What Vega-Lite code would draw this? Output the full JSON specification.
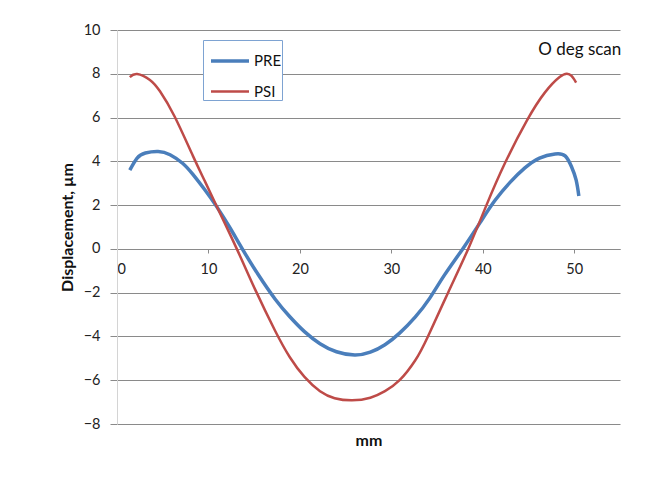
{
  "$schema": "https://vega.github.io/schema/vega-lite/v6.json",
  "width": 503,
  "height": 394,
  "autosize": {"type": "none"},
  "padding": {"left": 117, "top": 30, "right": 34, "bottom": 55},
  "background": "white",
  "config": {
    "view": {"stroke": null},
    "font": "Lato",
    "axis": {"labelFont": "Lato", "titleFont": "Lato"}
  },
  "datasets": {
    "curves": [
      {"mm": 1.4, "disp": 3.6, "series": "PRE"},
      {"mm": 2.2, "disp": 4.15, "series": "PRE"},
      {"mm": 3.1, "disp": 4.38, "series": "PRE"},
      {"mm": 4.5, "disp": 4.45, "series": "PRE"},
      {"mm": 5.8, "disp": 4.3, "series": "PRE"},
      {"mm": 7.2, "disp": 3.9, "series": "PRE"},
      {"mm": 8.3, "disp": 3.4, "series": "PRE"},
      {"mm": 9.6, "disp": 2.7, "series": "PRE"},
      {"mm": 10.9, "disp": 1.93, "series": "PRE"},
      {"mm": 12.3, "disp": 1.0, "series": "PRE"},
      {"mm": 13.7, "disp": 0.0, "series": "PRE"},
      {"mm": 15.4, "disp": -1.15, "series": "PRE"},
      {"mm": 17.3, "disp": -2.3, "series": "PRE"},
      {"mm": 18.9, "disp": -3.1, "series": "PRE"},
      {"mm": 20.5, "disp": -3.78, "series": "PRE"},
      {"mm": 22.2, "disp": -4.33, "series": "PRE"},
      {"mm": 24.0, "disp": -4.7, "series": "PRE"},
      {"mm": 26.0, "disp": -4.85, "series": "PRE"},
      {"mm": 27.7, "disp": -4.72, "series": "PRE"},
      {"mm": 29.3, "disp": -4.38, "series": "PRE"},
      {"mm": 30.9, "disp": -3.85, "series": "PRE"},
      {"mm": 32.6, "disp": -3.12, "series": "PRE"},
      {"mm": 34.2, "disp": -2.25, "series": "PRE"},
      {"mm": 35.8, "disp": -1.2, "series": "PRE"},
      {"mm": 37.8, "disp": 0.0, "series": "PRE"},
      {"mm": 39.7, "disp": 1.2, "series": "PRE"},
      {"mm": 41.3, "disp": 2.2, "series": "PRE"},
      {"mm": 43.0, "disp": 3.05, "series": "PRE"},
      {"mm": 44.6, "disp": 3.7, "series": "PRE"},
      {"mm": 46.2, "disp": 4.15, "series": "PRE"},
      {"mm": 47.9, "disp": 4.34, "series": "PRE"},
      {"mm": 49.0, "disp": 4.25, "series": "PRE"},
      {"mm": 49.7, "disp": 3.75, "series": "PRE"},
      {"mm": 50.2, "disp": 3.15, "series": "PRE"},
      {"mm": 50.5, "disp": 2.42, "series": "PRE"},

      {"mm": 1.4, "disp": 7.85, "series": "PSI"},
      {"mm": 2.2, "disp": 7.99, "series": "PSI"},
      {"mm": 3.6, "disp": 7.72, "series": "PSI"},
      {"mm": 4.7, "disp": 7.2, "series": "PSI"},
      {"mm": 6.3, "disp": 6.05, "series": "PSI"},
      {"mm": 8.3, "disp": 4.25, "series": "PSI"},
      {"mm": 9.6, "disp": 3.1, "series": "PSI"},
      {"mm": 10.9, "disp": 1.95, "series": "PSI"},
      {"mm": 13.1, "disp": 0.0, "series": "PSI"},
      {"mm": 15.1, "disp": -1.85, "series": "PSI"},
      {"mm": 17.3, "disp": -3.75, "series": "PSI"},
      {"mm": 18.9, "disp": -4.95, "series": "PSI"},
      {"mm": 20.5, "disp": -5.85, "series": "PSI"},
      {"mm": 22.2, "disp": -6.5, "series": "PSI"},
      {"mm": 23.8, "disp": -6.82, "series": "PSI"},
      {"mm": 25.7, "disp": -6.92, "series": "PSI"},
      {"mm": 27.7, "disp": -6.8, "series": "PSI"},
      {"mm": 29.3, "disp": -6.5, "series": "PSI"},
      {"mm": 30.9, "disp": -6.0, "series": "PSI"},
      {"mm": 32.6, "disp": -5.1, "series": "PSI"},
      {"mm": 34.0, "disp": -4.0, "series": "PSI"},
      {"mm": 36.2, "disp": -2.0, "series": "PSI"},
      {"mm": 38.4, "disp": 0.0, "series": "PSI"},
      {"mm": 40.4, "disp": 2.0, "series": "PSI"},
      {"mm": 42.4, "disp": 3.9, "series": "PSI"},
      {"mm": 44.8, "disp": 5.85, "series": "PSI"},
      {"mm": 46.8, "disp": 7.15, "series": "PSI"},
      {"mm": 48.4, "disp": 7.85, "series": "PSI"},
      {"mm": 49.2, "disp": 8.0, "series": "PSI"},
      {"mm": 49.7, "disp": 7.9, "series": "PSI"},
      {"mm": 50.2, "disp": 7.6, "series": "PSI"}
    ],
    "notes": [
      {"mm": 50.6, "disp": 8.86, "note": "O deg scan"}
    ]
  },
  "layer": [
    {
      "data": {"name": "curves"},
      "mark": {"type": "line", "interpolate": "natural"},
      "encoding": {
        "x": {
          "field": "mm",
          "type": "quantitative",
          "scale": {"domain": [0, 55], "nice": false},
          "axis": {
            "title": "mm",
            "values": [0, 10, 20, 30, 40, 50],
            "grid": false,
            "offset": -175,
            "domainColor": "#8a8a8a",
            "tickColor": "#8a8a8a",
            "tickSize": 4,
            "labelPadding": 9,
            "labelFontSize": 14.5,
            "labelColor": "#222222",
            "titleFontSize": 16,
            "titleFontWeight": "bold",
            "titleColor": "#111111",
            "titleX": 251.5,
            "titleY": 191,
            "titleBaseline": "middle"
          }
        },
        "y": {
          "field": "disp",
          "type": "quantitative",
          "scale": {"domain": [-8, 10], "nice": false},
          "axis": {
            "title": "Displacement, µm",
            "values": [-8, -6, -4, -2, 0, 2, 4, 6, 8, 10],
            "grid": true,
            "gridColor": "#8a8a8a",
            "domainColor": "#d4d4d4",
            "tickColor": "#8a8a8a",
            "tickSize": 7,
            "labelPadding": 10,
            "labelFontSize": 14.5,
            "labelColor": "#222222",
            "titleFontSize": 16,
            "titleFontWeight": "bold",
            "titleColor": "#111111",
            "titleX": -50,
            "titleY": 197,
            "titleAngle": -90,
            "titleAlign": "center",
            "titleBaseline": "middle"
          }
        },
        "color": {
          "field": "series",
          "type": "nominal",
          "scale": {"domain": ["PRE", "PSI"], "range": ["#4a7ebb", "#be4b48"]},
          "legend": {
            "orient": "none",
            "legendX": 86,
            "legendY": 10,
            "title": null,
            "strokeColor": "#7ea3d2",
            "fillColor": "white",
            "padding": 0,
            "rowPadding": 2,
            "symbolOffset": 6,
            "symbolType": "stroke",
            "symbolSize": 1444,
            "labelFontSize": 15,
            "labelColor": "#111111",
            "labelOffset": 3
          }
        },
        "strokeWidth": {
          "field": "series",
          "type": "nominal",
          "scale": {"domain": ["PRE", "PSI"], "range": [3.5, 2.5]},
          "legend": null
        }
      }
    },
    {
      "data": {"name": "notes"},
      "mark": {"type": "text", "align": "center", "baseline": "alphabetic", "fontSize": 17, "color": "#111111"},
      "encoding": {
        "x": {"field": "mm", "type": "quantitative"},
        "y": {"field": "disp", "type": "quantitative"},
        "text": {"field": "note"}
      }
    }
  ]
}
